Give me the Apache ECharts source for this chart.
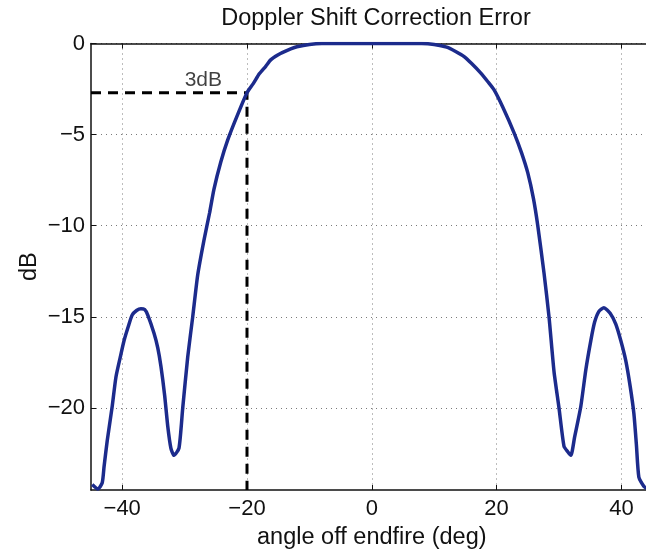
<!DOCTYPE html>
<html>
<head>
<meta charset="utf-8">
<script src="https://cdn.jsdelivr.net/npm/echarts@6/dist/echarts.min.js"></script>
<style>html,body{margin:0;padding:0;background:#fff;}#c{width:646px;height:550px;}</style>
</head>
<body>
<div id="c"></div>
<script>
// ---- data ----
const angles = [-44.8,-43.9,-43.2,-42.9,-42.4,-41.6,-41.0,-40.3,-39.7,-39.0,-38.4,-37.7,-37.0,-36.4,-35.9,-34.9,-34.3,-33.8,-33.2,-32.7,-32.2,-31.7,-30.9,-30.3,-29.5,-28.7,-27.9,-26.9,-26.0,-25.3,-24.2,-23.1,-21.5,-20.0,-19.0,-18.0,-17.0,-16.2,-15.0,-14.0,-13.0,-12.0,-10.0,-8.0,-4.0,0,4.0,8.0,10.0,12.0,13.5,14.8,16.0,17.4,18.6,19.6,21.0,22.8,24.0,25.0,25.9,26.6,27.6,28.4,29.2,30.0,30.8,31.4,31.9,32.5,33.5,34.3,35.1,35.7,36.4,37.2,38.2,39.1,39.9,40.7,41.4,42.0,42.4,42.8,43.6,44.5];
const dB = [-24.2,-24.45,-24.1,-23.2,-21.8,-19.9,-18.3,-17.2,-16.3,-15.5,-14.9,-14.65,-14.55,-14.6,-14.9,-15.9,-16.7,-17.7,-19.3,-21.0,-22.2,-22.6,-22.2,-20.0,-17.2,-15.0,-12.7,-10.8,-9.3,-8.0,-6.5,-5.3,-3.9,-2.7,-2.2,-1.65,-1.25,-0.9,-0.62,-0.45,-0.3,-0.18,-0.05,0,0,0,0,0,-0.05,-0.2,-0.45,-0.72,-1.1,-1.6,-2.1,-2.55,-3.5,-4.9,-6.0,-7.1,-8.5,-10.0,-12.6,-15.0,-18.0,-20.0,-22.1,-22.4,-22.6,-21.6,-19.9,-17.9,-16.3,-15.3,-14.7,-14.5,-14.8,-15.4,-16.3,-17.4,-18.8,-20.3,-22.0,-23.8,-24.3,-24.5];
const xTicks = [-40,-20,0,20,40];
const yTicks = [-20,-15,-10,-5,0];
const xRange = [-45, 45];
const yRange = [-24.5, 0];
const threeDbAngle = -20;
const threeDbLevel = -2.7;
const threeDbLabel = '3dB';
const threeDbLabelPos = [-27, -2.0];

const curve = angles.map((a, i) => [a, dB[i]]);
const dashed = [[xRange[0], threeDbLevel], [threeDbAngle, threeDbLevel], [threeDbAngle, yRange[0]]];

const font = 'Liberation Sans, Arial, Helvetica, sans-serif';
const minus = v => (v < 0 ? '\u2212' + Math.abs(v) : String(v));
const gridLine = { show: true, lineStyle: { color: '#7a7a7a', width: 1, type: [1, 4] } };

const chart = echarts.init(document.getElementById('c'));
chart.setOption({
  animation: false,
  backgroundColor: '#fff',
  title: {
    text: 'Doppler Shift Correction Error',
    left: 371, top: 2, textAlign: 'center',
    textStyle: { fontFamily: font, fontSize: 23.5, fontWeight: 'normal', color: '#111' }
  },
  grid: { left: 91, top: 43.5, width: 561.6, height: 446.5, containLabel: false, outerBoundsMode: 'none' },
  xAxis: [{
    type: 'value', min: xRange[0], max: xRange[1], position: 'bottom',
    name: 'angle off endfire (deg)', nameLocation: 'middle', nameGap: 36,
    nameTextStyle: { fontFamily: font, fontSize: 23.5, color: '#111' },
    axisLine: { show: true, onZero: false, lineStyle: { color: '#111', width: 1.5 } },
    axisTick: { show: true, inside: true, length: 5, customValues: xTicks, lineStyle: { color: '#111' } },
    axisLabel: { customValues: xTicks, formatter: minus, margin: 8, fontFamily: font, fontSize: 22, color: '#111' },
    splitLine: gridLine
  }, {
    type: 'value', min: xRange[0], max: xRange[1], position: 'top',
    axisLine: { show: true, onZero: false, lineStyle: { color: '#111', width: 1.5 } },
    axisTick: { show: true, inside: true, length: 5, customValues: xTicks, lineStyle: { color: '#111' } },
    axisLabel: { show: false },
    splitLine: { show: false }
  }],
  yAxis: [{
    type: 'value', min: yRange[0], max: yRange[1],
    name: 'dB', nameLocation: 'middle', nameGap: 49, nameMoveOverlap: false,
    nameTextStyle: { fontFamily: font, fontSize: 23.5, color: '#111' },
    axisLine: { show: true, onZero: false, lineStyle: { color: '#111', width: 1.5 } },
    axisTick: { show: true, inside: true, length: 5, customValues: yTicks, lineStyle: { color: '#111' } },
    axisLabel: { customValues: yTicks, formatter: minus, margin: 6, fontFamily: font, fontSize: 22, color: '#111' },
    splitLine: gridLine
  }],
  series: [{
    type: 'line', data: curve, showSymbol: false, smooth: 0.2, clip: true,
    lineStyle: { color: '#1c2b8c', width: 3.5 }, z: 3
  }, {
    type: 'line', data: dashed, showSymbol: false,
    lineStyle: { color: '#000', width: 3, type: [10, 7] }, z: 2
  }, {
    type: 'scatter', data: [threeDbLabelPos], symbolSize: 0,
    label: { show: true, formatter: threeDbLabel, position: 'inside', fontFamily: font, fontSize: 21, color: '#111' }
  }]
});
</script>
</body>
</html>
